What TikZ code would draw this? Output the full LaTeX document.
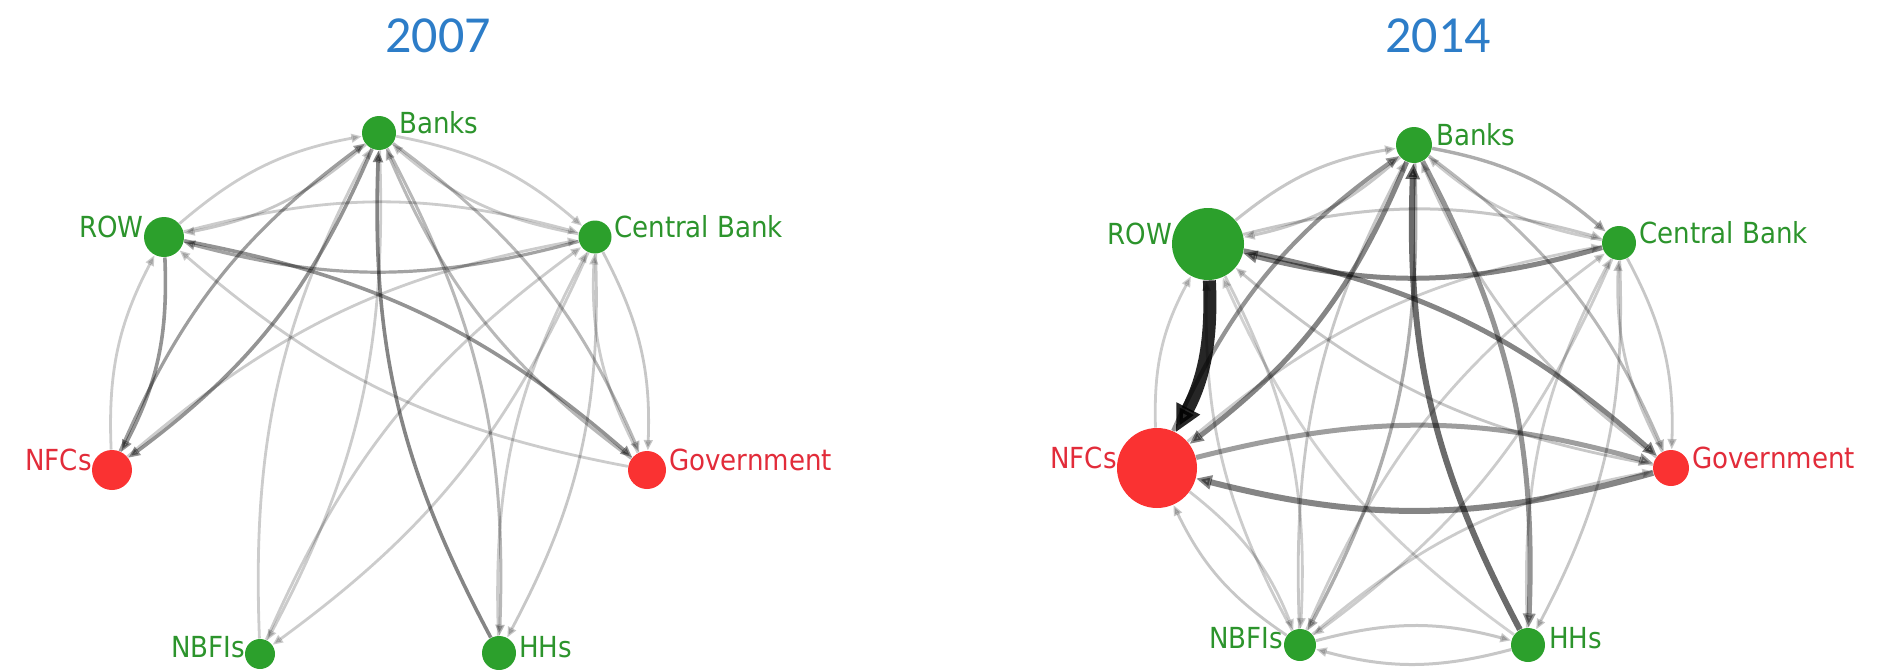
\documentclass[tikz,border=0pt]{standalone}
\usepackage{fontspec}
\usetikzlibrary{arrows.meta}
\newfontfamily\labfont[FakeStretch=0.9]{DejaVu Sans}
\newfontfamily\titfont{Carlito}
\definecolor{ngreen}{RGB}{44,160,44}
\definecolor{nred}{RGB}{250,50,50}
\definecolor{lgreen}{RGB}{44,148,44}
\definecolor{lred}{RGB}{226,44,58}
\definecolor{tblue}{RGB}{45,125,200}
\pgfdeclarelayer{edges}
\pgfsetlayers{edges,main}
\newcommand\edg[4]{\draw[ed={#3}{#4}] (#1) to[bend left=15] (#2);}
\tikzset{
  gnode/.style={circle, inner sep=0pt, outer sep=0.5pt, fill=ngreen, minimum size=#1},
  rnode/.style={circle, inner sep=0pt, outer sep=0.5pt, fill=nred, minimum size=#1},
  glab/.style={inner sep=0pt, text=lgreen, font=\labfont\fontsize{29}{32}\selectfont},
  rlab/.style={inner sep=0pt, text=lred, font=\labfont\fontsize{29}{32}\selectfont},
  ttl/.style={inner sep=0pt, text=tblue, font=\titfont\fontsize{52}{56}\selectfont},
  ed/.style 2 args={draw=black, opacity=#1, line width=#2pt,
     -{Triangle[length=6pt 1.6, width=4pt 1.6]}},
}
\begin{document}
\begin{tikzpicture}[x=1pt,y=1pt]
\useasboundingbox (0,0) rectangle (1897,-669);
% titles
\node[ttl] (t1) at (438,-36) {2007};
\node[ttl] (t2) at (1438,-36) {2014};
% ---------- 2007 ----------
\node[gnode=34pt] (LB) at (379,-133) {};
\node[gnode=40pt] (LR) at (164,-237) {};
\node[gnode=33pt] (LC) at (595,-237) {};
\node[rnode=40pt] (LN) at (112,-470) {};
\node[rnode=38pt] (LG) at (647,-470) {};
\node[gnode=30pt] (LF) at (260,-654) {};
\node[gnode=34pt] (LH) at (499,-653) {};
\node[glab, anchor=base west] (LBl) at (399,-133) {Banks};
\node[glab, anchor=base east] (LRl) at (144,-237) {ROW};
\node[glab, anchor=base west] (LCl) at (614,-237) {Central Bank};
\node[rlab, anchor=base east] (LNl) at (92,-470) {NFCs};
\node[rlab, anchor=base west] (LGl) at (669,-470) {Government};
\node[glab, anchor=base east] (LFl) at (245,-657) {NBFIs};
\node[glab, anchor=base west] (LHl) at (519,-657) {HHs};
% ---------- 2014 ----------
\node[gnode=36pt] (RB) at (1414,-145) {};
\node[gnode=72pt] (RR) at (1208,-244) {};
\node[gnode=34pt] (RC) at (1619,-243) {};
\node[rnode=80pt] (RN) at (1157,-468) {};
\node[rnode=36pt] (RG) at (1671,-468) {};
\node[gnode=32pt] (RF) at (1300,-645) {};
\node[gnode=34pt] (RH) at (1528,-645) {};
\node[glab, anchor=base west] (RBl) at (1436,-145) {Banks};
\node[glab, anchor=base east] (RRl) at (1172,-244) {ROW};
\node[glab, anchor=base west] (RCl) at (1639,-243) {Central Bank};
\node[rlab, anchor=base east] (RNl) at (1117,-468) {NFCs};
\node[rlab, anchor=base west] (RGl) at (1692,-468) {Government};
\node[glab, anchor=base east] (RFl) at (1283,-648) {NBFIs};
\node[glab, anchor=base west] (RHl) at (1549,-648) {HHs};
\begin{pgfonlayer}{edges}
% 2007 edges
\edg{LR}{LB}{0.2}{2.8}
\edg{LB}{LR}{0.22}{2.8}
\edg{LB}{LC}{0.2}{2.8}
\edg{LC}{LB}{0.2}{2.8}
\edg{LB}{LN}{0.42}{3.6}
\edg{LN}{LB}{0.38}{3.2}
\edg{LB}{LG}{0.28}{3}
\edg{LG}{LB}{0.28}{3}
\edg{LB}{LF}{0.2}{2.8}
\edg{LF}{LB}{0.2}{2.8}
\edg{LB}{LH}{0.28}{3}
\edg{LH}{LB}{0.48}{3.6}
\edg{LR}{LC}{0.2}{2.8}
\edg{LC}{LR}{0.36}{3.2}
\edg{LR}{LN}{0.42}{3.6}
\edg{LN}{LR}{0.2}{2.8}
\edg{LR}{LG}{0.42}{3.6}
\edg{LG}{LR}{0.2}{2.8}
\edg{LN}{LC}{0.2}{2.8}
\edg{LC}{LG}{0.22}{2.8}
\edg{LG}{LC}{0.2}{2.8}
\edg{LC}{LF}{0.2}{2.8}
\edg{LF}{LC}{0.2}{2.8}
\edg{LC}{LH}{0.22}{2.8}
\edg{LH}{LC}{0.2}{2.8}
% 2014 edges
\edg{RR}{RB}{0.22}{3}
\edg{RB}{RR}{0.22}{3}
\edg{RB}{RC}{0.32}{3.4}
\edg{RC}{RB}{0.2}{2.8}
\edg{RB}{RN}{0.48}{5}
\edg{RN}{RB}{0.42}{4.2}
\edg{RB}{RG}{0.28}{3}
\edg{RG}{RB}{0.22}{2.8}
\edg{RB}{RF}{0.32}{3.4}
\edg{RF}{RB}{0.22}{2.8}
\edg{RB}{RH}{0.42}{5}
\edg{RH}{RB}{0.58}{6}
\edg{RR}{RC}{0.22}{3}
\edg{RC}{RR}{0.48}{5}
\edg{RR}{RN}{0.85}{13}
\edg{RN}{RR}{0.2}{2.8}
\edg{RR}{RG}{0.48}{5}
\edg{RG}{RR}{0.22}{2.8}
\edg{RR}{RF}{0.2}{2.8}
\edg{RF}{RR}{0.2}{2.8}
\edg{RH}{RR}{0.18}{2.8}
\edg{RN}{RC}{0.2}{2.8}
\edg{RC}{RG}{0.22}{2.8}
\edg{RG}{RC}{0.22}{2.8}
\edg{RC}{RF}{0.2}{2.8}
\edg{RF}{RC}{0.2}{2.8}
\edg{RC}{RH}{0.22}{2.8}
\edg{RH}{RC}{0.2}{2.8}
\edg{RN}{RG}{0.38}{5}
\edg{RG}{RN}{0.48}{6}
\edg{RN}{RF}{0.2}{2.8}
\edg{RF}{RN}{0.22}{2.8}
\edg{RF}{RH}{0.22}{3}
\edg{RH}{RF}{0.22}{3}
\edg{RF}{RG}{0.2}{2.8}
\end{pgfonlayer}
\end{tikzpicture}
\end{document}
